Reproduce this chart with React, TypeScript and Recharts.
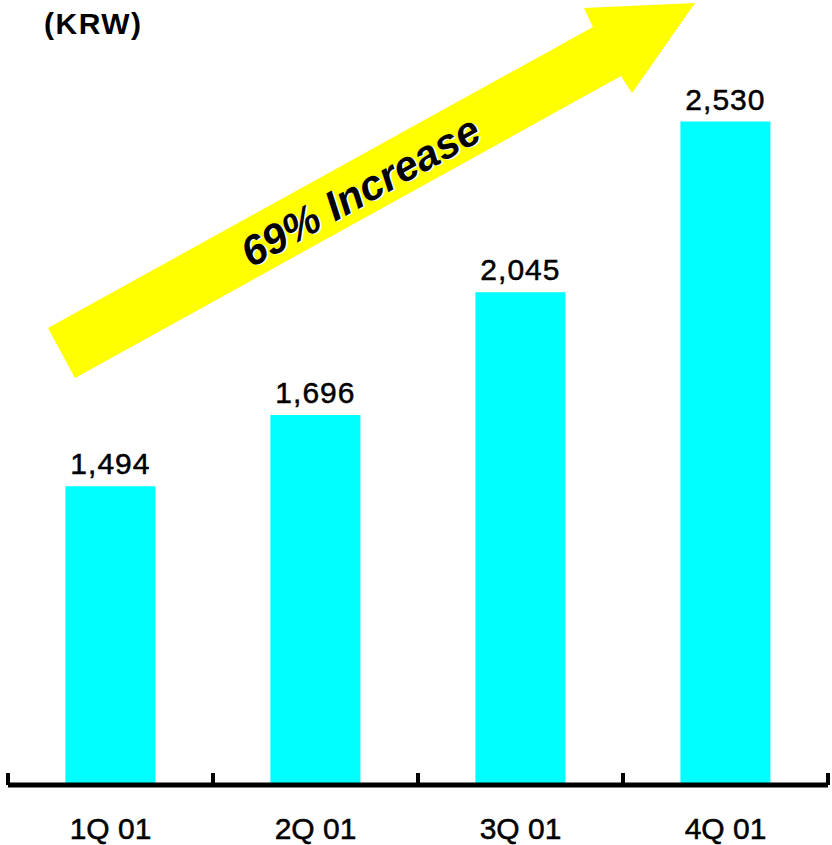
import { BarChart, Bar, XAxis, YAxis, LabelList } from 'recharts'

const QUARTERS = ['1Q 01', '2Q 01', '3Q 01', '4Q 01']
const PRICES = [1494, 1696, 2045, 2530]
const UNIT_LABEL = '(KRW)'
const ARROW_TEXT = '69% Increase'

const FONT = '"Liberation Sans", Arial, sans-serif'

const data = QUARTERS.map((q, i) => ({ quarter: q, price: PRICES[i] }))

// category label plus the small upward tick marks that sit on the category edges
function QuarterTick(props: any) {
  const { x, y, payload, index, width, visibleTicksCount } = props
  const half = width / visibleTicksCount / 2
  const isLast = index === visibleTicksCount - 1
  return (
    <g>
      <line x1={x - half} x2={x - half} y1={y - 12} y2={y} stroke="#000" strokeWidth={4} />
      {isLast && (
        <line x1={x + half} x2={x + half} y1={y - 12} y2={y} stroke="#000" strokeWidth={4} />
      )}
      <text
        x={x}
        y={y + 54}
        textAnchor="middle"
        fontSize={30}
        fontFamily={FONT}
        fill="#000"
        stroke="#000"
        strokeWidth={0.5}
      >
        {payload.value}
      </text>
    </g>
  )
}

function GrowthArrow() {
  return (
    <svg
      width={832}
      height={845}
      style={{ position: 'absolute', left: 0, top: 0, pointerEvents: 'none' }}
    >
      <polygon
        points="48,328 75,378 621,76 632,93 695,3 584,8 593,27"
        fill="#ffff00"
      />
      <g transform="translate(362,194) rotate(-29)">
        <text
          x={1.5}
          y={1.5}
          textAnchor="middle"
          dominantBaseline="middle"
          fontFamily={FONT}
          fontWeight="bold"
          fontStyle="italic"
          fontSize={42}
          fill="#ffffff"
        >
          {ARROW_TEXT}
        </text>
        <text
          textAnchor="middle"
          dominantBaseline="middle"
          fontFamily={FONT}
          fontWeight="bold"
          fontStyle="italic"
          fontSize={42}
          fill="#000000"
        >
          {ARROW_TEXT}
        </text>
      </g>
    </svg>
  )
}

export default function App() {
  return (
    <div style={{ position: 'absolute', left: 0, top: 0, width: 832, height: 845, background: '#fff' }}>
      <div
        style={{
          position: 'absolute',
          left: 44,
          top: 7,
          fontFamily: FONT,
          fontWeight: 'bold',
          fontSize: 30,
          letterSpacing: 1.5,
          color: '#000',
        }}
      >
        {UNIT_LABEL}
      </div>
      <BarChart
        width={832}
        height={845}
        data={data}
        margin={{ top: 30, right: 4, bottom: 0, left: 8 }}
        barCategoryGap="28%"
      >
        <XAxis
          dataKey="quarter"
          height={60}
          axisLine={{ stroke: '#000', strokeWidth: 5 }}
          tickLine={false}
          tickSize={0}
          tickMargin={0}
          interval={0}
          tick={<QuarterTick />}
        />
        <YAxis hide domain={[645, 2790]} allowDataOverflow />
        <Bar dataKey="price" fill="#00ffff" isAnimationActive={false}>
          <LabelList
            dataKey="price"
            position="top"
            offset={12}
            formatter={(v: number) => v.toLocaleString('en-US')}
            style={{
              fontSize: 30,
              fill: '#000',
              stroke: '#000',
              strokeWidth: 0.5,
              fontFamily: FONT,
              letterSpacing: 1,
            }}
          />
        </Bar>
      </BarChart>
      <GrowthArrow />
    </div>
  )
}
